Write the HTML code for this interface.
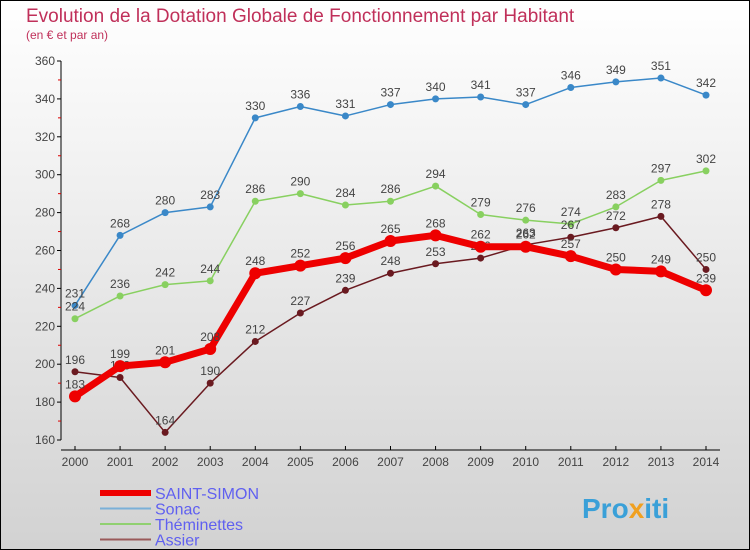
<!DOCTYPE html>
<html><head><meta charset="utf-8"><style>
body{margin:0;width:750px;height:550px;overflow:hidden}
svg{display:block;font-family:"Liberation Sans",sans-serif}
</style></head><body>
<svg id="c" width="750" height="550">
<defs><linearGradient id="bg" x1="0" y1="0" x2="0" y2="1"><stop offset="0" stop-color="#ffffff"/><stop offset="1" stop-color="#d2d2d2"/></linearGradient></defs>
<rect x="0.5" y="0.5" width="749" height="549" fill="url(#bg)" stroke="#000"/>
<text x="26" y="22" font-size="19" fill="#c0305a">Evolution de la Dotation Globale de Fonctionnement par Habitant</text>
<text x="26" y="39" font-size="12" fill="#c0305a">(en € et par an)</text>
<g id="axes"></g><g id="series"></g><g id="legend"></g>
<text x="582" y="518" font-size="28" font-weight="bold" fill="#3aa0d8">Pro<tspan fill="#f0a020">x</tspan>iti</text>
</svg>
<script>
const years=[2000,2001,2002,2003,2004,2005,2006,2007,2008,2009,2010,2011,2012,2013,2014];
const yTicks=[160,180,200,220,240,260,280,300,320,340,360];
const sonac=[231,268,280,283,330,336,331,337,340,341,337,346,349,351,342];
const theminettes=[224,236,242,244,286,290,284,286,294,279,276,274,283,297,302];
const assier=[196,193,164,190,212,227,239,248,253,256,263,267,272,278,250];
const saintSimon=[183,199,201,208,248,252,256,265,268,262,262,257,250,249,239];
const NS="http://www.w3.org/2000/svg";
const X=i=>75+i*(706-75)/14;
const Y=v=>440-(v-160)*(440-61)/200;
function mk(t,a,p){const e=document.createElementNS(NS,t);for(const k in a)e.setAttribute(k,a[k]);p.appendChild(e);return e;}
const ax=document.getElementById('axes');
let yl=mk('line',{x1:61,y1:61,x2:61,y2:440,stroke:'#000'},ax);

let xl=mk('line',{x1:61,y1:450,x2:720,y2:450,stroke:'#000'},ax);

yTicks.forEach((v,i)=>{
 mk('line',{x1:57,y1:Y(v),x2:61,y2:Y(v),stroke:'#000'},ax);
 if(i<yTicks.length-1)mk('line',{x1:58,y1:Y(v+10),x2:61,y2:Y(v+10),stroke:'#d00'},ax);
 const t=mk('text',{x:55,y:Y(v)+4,'font-size':12,fill:'#444','text-anchor':'end'},ax);t.textContent=v;
 
});
years.forEach((y,i)=>{
 mk('line',{x1:X(i),y1:446,x2:X(i),y2:450,stroke:'#000'},ax);
 const t=mk('text',{x:X(i),y:466,'font-size':12,fill:'#444','text-anchor':'middle'},ax);t.textContent=y;
 
});
const sg=document.getElementById('series');
function draw(data,col,w,r,name){
 const g=mk('g',{},sg);
 
 mk('polyline',{points:data.map((v,i)=>X(i)+','+Y(v)).join(' '),fill:'none',stroke:col,'stroke-width':w,'stroke-linejoin':'round'},g);
 data.forEach((v,i)=>{
  const c=mk('circle',{cx:X(i),cy:Y(v),r:r,fill:col},g);
  
  const t=mk('text',{x:X(i),y:Y(v)-8,'font-size':12,fill:'#444','text-anchor':'middle'},g);t.textContent=v;
  
 });
}
draw(sonac,'#3a88c8',1.5,3.5,'sonac');
draw(theminettes,'#88d060',1.5,3.5,'theminettes');
draw(assier,'#6a1a20',1.5,3.5,'assier');
draw(saintSimon,'#ee0000',7,6,'saint-simon');
const lg=document.getElementById('legend');
[['SAINT-SIMON','#ee0000',6],['Sonac','#7ab0d8',2],['Théminettes','#90d070',2],['Assier','#9a5a5a',2]].forEach((e,i)=>{
 const y=493+i*15.5;
 const g=mk('g',{},lg);
 
 mk('line',{x1:100,y1:y,x2:151,y2:y,stroke:e[1],'stroke-width':e[2]},g);
 const t=mk('text',{x:155,y:y+6,'font-size':16,fill:'#6060f0'},g);t.textContent=e[0];
});
</script>
</body></html>
